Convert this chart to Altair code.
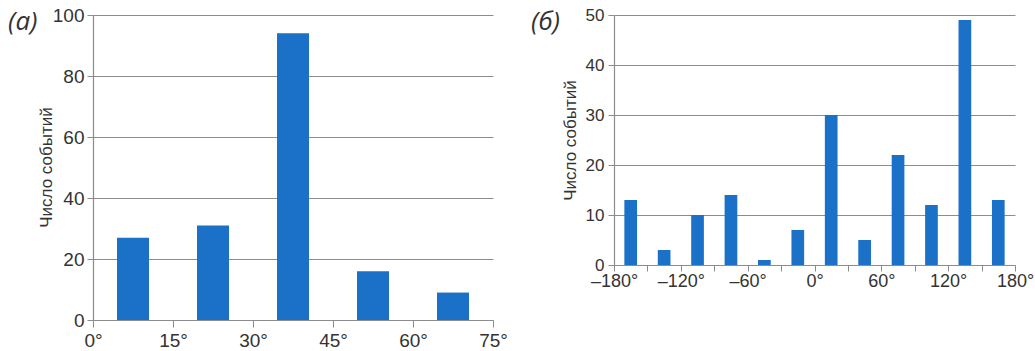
import altair as alt
import pandas as pd

# Panel (a): angle bins (degrees) and event counts
a_centers = [7.5, 22.5, 37.5, 52.5, 67.5]
a_counts = [27, 31, 94, 16, 9]
a_ticks = [0, 15, 30, 45, 60, 75]
a_yticks = [0, 20, 40, 60, 80, 100]

# Panel (б): angle bins (degrees) and event counts
b_centers = [-165, -135, -105, -75, -45, -15, 15, 45, 75, 105, 135, 165]
b_counts = [13, 3, 10, 14, 1, 7, 30, 5, 22, 12, 49, 13]
b_ticks = [-180, -150, -120, -90, -60, -30, 0, 30, 60, 90, 120, 150, 180]
b_yticks = [0, 10, 20, 30, 40, 50]

ytitle = "Число событий"
BLUE = "#1a71c7"
GRID = "#8c8c8c"
FONT = "Liberation Sans"

df_a = pd.DataFrame({"c": a_centers, "n": a_counts})
df_b = pd.DataFrame({"c": b_centers, "n": b_counts})

deg_expr = "(datum.value < 0 ? '\u2013' + abs(datum.value) : datum.value) + '\u00b0'"

bars_a = alt.Chart(df_a).transform_calculate(
    x0="datum.c - 3", x1="datum.c + 3"
).mark_bar(color=BLUE).encode(
    x=alt.X("x0:Q", scale=alt.Scale(domain=[0, 75], nice=False, zero=False),
            axis=alt.Axis(values=a_ticks, labelExpr=deg_expr, title=None, grid=False,
                          labelFlush=False, labelOverlap=False, tickSize=7,
                          labelPadding=4)),
    x2="x1:Q",
    y=alt.Y("n:Q", scale=alt.Scale(domain=[0, 100], nice=False),
            axis=alt.Axis(values=a_yticks, title=ytitle, titleX=-47, titleY=152,
                          titleAngle=270, titleAlign="center", titleBaseline="middle")),
    y2=alt.datum(0),
)
lab_a = alt.Chart(pd.DataFrame({"t": ["(а)"]})).mark_text(
    align="left", baseline="top", font="Open Sans", fontSize=26, fontStyle="italic",
    color="#333333"
).encode(x=alt.value(-85), y=alt.value(-6), text="t:N")

left = alt.layer(bars_a, lab_a).properties(width=400, height=305)

bars_b = alt.Chart(df_b).transform_calculate(
    x0="datum.c - 5.7", x1="datum.c + 5.7"
).mark_bar(color=BLUE).encode(
    x=alt.X("x0:Q", scale=alt.Scale(domain=[-180, 180], nice=False, zero=False),
            axis=alt.Axis(values=b_ticks,
                          labelExpr="(datum.value % 60 == 0) ? " + deg_expr + " : ''",
                          title=None, grid=False, labelFlush=False, labelOverlap=False,
                          tickSize=6, labelPadding=1, labelFontSize=18)),
    x2="x1:Q",
    y=alt.Y("n:Q", scale=alt.Scale(domain=[0, 50], nice=False),
            axis=alt.Axis(values=b_yticks, title=ytitle, titleX=-44, titleY=125,
                          titleAngle=270, titleAlign="center", titleBaseline="middle",
                          labelFontSize=17, labelPadding=4)),
    y2=alt.datum(0),
)
lab_b = alt.Chart(pd.DataFrame({"t": ["(б)"]})).mark_text(
    align="left", baseline="top", font="Open Sans", fontSize=26, fontStyle="italic",
    color="#333333"
).encode(x=alt.value(-83), y=alt.value(-6), text="t:N")

right = alt.layer(bars_b, lab_b).properties(width=401, height=250)

chart = alt.hconcat(left, right, spacing=23).properties(
    padding={"left": 8, "top": 6, "right": 0, "bottom": 0}
).configure_view(stroke=None).configure_axis(
    gridColor=GRID, domainColor=GRID, tickColor=GRID, gridWidth=1, domainWidth=1.2,
    tickSize=6, labelFont=FONT, labelFontSize=19, labelColor="#333333",
    labelPadding=3, titleFont=FONT, titleFontSize=17, titleFontWeight="normal",
    titleColor="#333333"
).configure_concat(spacing=23)

chart.save("out.html", embed_options={"renderer": "svg", "actions": False})
